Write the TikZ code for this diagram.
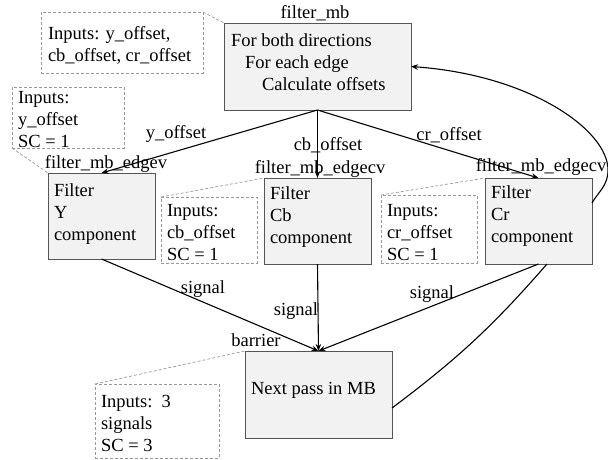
\documentclass[tikz,border=0pt]{standalone}
\usepackage{fontspec}
\setmainfont{Liberation Serif}
\usetikzlibrary{arrows.meta}
\newcommand{\stacklines}[1]{\begin{tabular}[t]{@{}l@{}}#1\end{tabular}}
\definecolor{boxfill}{HTML}{F2F2F2}
\definecolor{boxline}{HTML}{555555}
\definecolor{noteline}{HTML}{999999}

\begin{document}
\begin{tikzpicture}[x=1pt,y=-1pt,
  every node/.style={font=\fontsize{18.5}{22}\selectfont, inner sep=0pt, outer sep=0pt},
  stage/.style={draw=boxline, fill=boxfill, line width=0.8pt, anchor=north west, rectangle},
  note/.style={draw=noteline, dash pattern=on 3pt off 2pt, line width=0.7pt, anchor=north west, rectangle},
  txt/.style={anchor=base west},
  tag/.style={anchor=base},
  flow/.style={line width=1.1pt, -{Stealth[length=7pt,width=5.5pt]}},
  link/.style={draw=noteline, dash pattern=on 3pt off 2pt, line width=0.7pt}]
\useasboundingbox (0,0) rectangle (608,459);

% processing stages
\node[stage, minimum width=187pt, minimum height=87pt] (fmb) at (224,23) {};
\node[stage, minimum width=107pt, minimum height=86pt] (fy)  at (48,173) {};
\node[stage, minimum width=107pt, minimum height=86pt] (fcb) at (264,178) {};
\node[stage, minimum width=107pt, minimum height=86pt] (fcr) at (485,178) {};
\node[stage, minimum width=147pt, minimum height=87pt] (mb)  at (245,351) {};

% stage contents
\node[txt] (fmbt) at (231,46) {\stacklines{For both directions\\\hspace*{14pt}For each edge\\\hspace*{31pt}Calculate offsets}};
\node[txt] (fyt)  at (54,196)  {\stacklines{Filter\\Y\\component}};
\node[txt] (fcbt) at (270,199) {\stacklines{Filter\\Cb\\component}};
\node[txt] (fcrt) at (491,198) {\stacklines{Filter\\Cr\\component}};
\node[txt] (mbt)  at (251,394) {Next pass in MB};

% stage names
\node[tag] (fmbl) at (315,18)  {filter\_mb};
\node[tag] (fyl)  at (106,168) {filter\_mb\_edgev};
\node[tag] (fcbl) at (320,173) {filter\_mb\_edgecv};
\node[tag] (fcrl) at (541,171) {filter\_mb\_edgecv};
\node[tag] (mbl)  at (256,346) {barrier};

% input notes
\node[note, minimum width=162pt, minimum height=61pt] (n1)  at (41,12) {};
\node[note, minimum width=112pt, minimum height=61pt] (n2)  at (12,87) {};
\node[note, minimum width=96pt,  minimum height=66pt] (ncb) at (161,197) {};
\node[note, minimum width=96pt,  minimum height=68pt] (ncr) at (381,195) {};
\node[note, minimum width=124pt, minimum height=74pt] (nmb) at (95,384) {};

\node[txt] (n1t)  at (48,39)   {\stacklines{Inputs: y\_offset,\\cb\_offset, cr\_offset}};
\node[txt] (n2t)  at (18,103)  {\stacklines{Inputs:\\y\_offset\\SC = 1}};
\node[txt] (ncbt) at (167,216) {\stacklines{Inputs:\\cb\_offset\\SC = 1}};
\node[txt] (ncrt) at (387,216) {\stacklines{Inputs:\\cr\_offset\\SC = 1}};
\node[txt] (nmbt) at (101,407) {\stacklines{Inputs:~~3\\signals\\SC = 3}};

% notes attached to their stages
\draw[link] (n1.north east) -- (fmb.north west);
\draw[link] (n2.south west) -- (fy.north west);
\draw[link] (ncb.north west) -- (fcb.north west);
\draw[link] (ncr.north west) -- (fcr.north west);
\draw[link] (nmb.north west) -- (mb.north west);

% data flow
\draw[flow] (fmb.south) -- (fy.north);
\draw[flow] (fmb.south) -- (fcb.north);
\draw[flow] (fmb.south) -- (fcr.north);
\draw[flow] (fy.south)  -- (mb.north);
\draw[flow] (fcb.south) -- (mb.north);
\draw[flow] (fcr.south) -- (mb.north);
\draw[flow] ([yshift=18pt]fcr.east) .. controls (598,192) and (608,186) .. (608,170)
            .. controls (608,130) and (530,75) .. (fmb.east);
\draw[line width=1.1pt] ([yshift=-13.5pt]mb.east) to[bend right=6] ([xshift=8.5pt]fcr.south);

% flow labels
\node[tag] (ly)  at (176,138) {y\_offset};
\node[tag] (lcb) at (328,150) {cb\_offset};
\node[tag] (lcr) at (449,140) {cr\_offset};
\node[tag] (sy)  at (203,293) {signal};
\node[tag] (scb) at (296,315) {signal};
\node[tag] (scr) at (432,298) {signal};
\end{tikzpicture}
\end{document}
